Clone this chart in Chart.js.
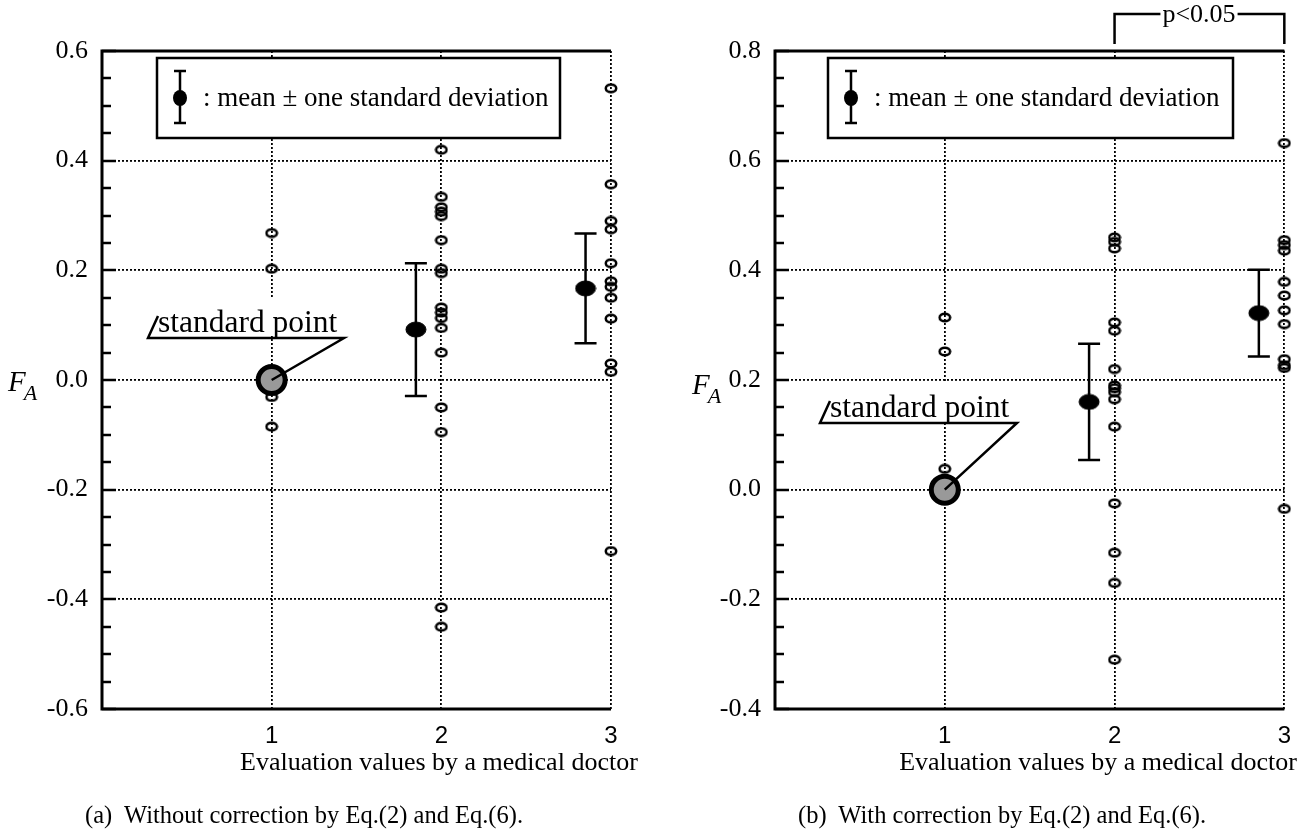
<!DOCTYPE html>
<html lang="en"><head>
<title>F_A against evaluation values by a medical doctor</title>
<style>
* { margin: 0; padding: 0 }
body { width: 1304px; height: 840px; position: relative; overflow: hidden; background: #fff; color: #000; font-family: "Liberation Serif", "Times New Roman", serif; }
canvas { position: absolute; top: 0; }
#ChartA { left: 0 }
#ChartB { left: 652px }
.txt { position: absolute; white-space: pre; line-height: 1; }
.xt { font-size: 26px; }
.cap { font-size: 24.5px; }
.fa { position: absolute; line-height: 1; font-style: italic; }
.fa i { font-size: 29px; }
.fa span { font-size: 22px; position: relative; top: 9px; left: -2px; }
</style>
<script src="https://cdn.jsdelivr.net/npm/chart.js"></script>
<script>

// (a) without correction -- F_A values at each evaluation value
const A_EVAL1 = [0.268, 0.203, -0.031, -0.085];
const A_EVAL2 = [0.42, 0.334, 0.315, 0.307, 0.299, 0.255, 0.203, 0.195, 0.132, 0.123, 0.113, 0.095, 0.05, -0.05, -0.095, -0.415, -0.45];
const A_EVAL3 = [0.532, 0.357, 0.29, 0.275, 0.213, 0.18, 0.17, 0.15, 0.112, 0.03, 0.015, -0.312];
const A_MEAN_X = [1.85, 2.85];
const A_MEAN = [0.092, 0.167];
const A_SD = [0.121, 0.1];

// (b) with correction
const B_EVAL1 = [0.314, 0.252, 0.038];
const B_EVAL2 = [0.46, 0.452, 0.44, 0.305, 0.29, 0.22, 0.19, 0.185, 0.178, 0.165, 0.115, -0.025, -0.115, -0.17, -0.31];
const B_EVAL3 = [0.632, 0.455, 0.446, 0.436, 0.379, 0.354, 0.327, 0.302, 0.238, 0.227, 0.222, -0.035];
const B_MEAN_X = [1.85, 2.85];
const B_MEAN = [0.16, 0.322];
const B_SD = [0.106, 0.079];

// the standard point (same in both panels)
const STD_X = 1;
const STD_Y = 0;

const X_TICKS = [1, 2, 3];

function get(id) {
    return document.getElementById(id);
}

function ring(w, h, lw, filled) {
    const c = document.createElement("canvas");
    c.width = w;
    c.height = h;
    const ctx = c.getContext("2d");
    ctx.beginPath();
    ctx.ellipse(w / 2, h / 2, w / 2 - lw / 2 - 0.5, h / 2 - lw / 2 - 0.5, 0, 0, Math.PI * 2);
    if (filled) {
        ctx.fillStyle = "#000";
        ctx.fill();
    }
    ctx.lineWidth = lw;
    ctx.strokeStyle = "#000";
    ctx.stroke();
    return c;
}

function toPoints(x, ys) {
    return ys.map(y => ({x: x, y: y}));
}

// everything drawn on top of the chart area for one panel
function panelPlugin(p) {
    return {
        id: "panel",
        beforeDatasetsDraw(chart) {
            const {ctx, chartArea: a, scales: {x, y}} = chart;
            ctx.save();
            ctx.strokeStyle = "#000";
            // inward ticks, major and minor, on the left axis
            ctx.lineWidth = 2.5;
            ctx.beginPath();
            for (let v = p.yMin; v <= p.yMax + 1e-9; v += 0.05) {
                const py = Math.round(y.getPixelForValue(v));
                const major = Math.abs(Math.round(v / 0.2) * 0.2 - v) < 1e-6;
                ctx.moveTo(a.left, py);
                ctx.lineTo(a.left + (major ? 14 : 9), py);
            }
            ctx.stroke();
            // frame: left, bottom, top
            ctx.lineWidth = 3;
            ctx.beginPath();
            ctx.moveTo(a.right, a.top);
            ctx.lineTo(a.left, a.top);
            ctx.lineTo(a.left, a.bottom);
            ctx.lineTo(a.right, a.bottom);
            ctx.stroke();
            // error bars
            ctx.lineWidth = 2.5;
            ctx.beginPath();
            p.meanX.forEach((xv, i) => {
                const px = x.getPixelForValue(xv);
                const top = y.getPixelForValue(p.mean[i] + p.sd[i]);
                const bot = y.getPixelForValue(p.mean[i] - p.sd[i]);
                ctx.moveTo(px, top); ctx.lineTo(px, bot);
                ctx.moveTo(px - 11, top); ctx.lineTo(px + 11, top);
                ctx.moveTo(px - 11, bot); ctx.lineTo(px + 11, bot);
            });
            ctx.stroke();
            ctx.restore();
        },
        afterDatasetsDraw(chart) {
            const {ctx, scales: {x, y}} = chart;
            ctx.save();
            ctx.strokeStyle = "#000";
            ctx.fillStyle = "#000";

            // legend box
            const L = p.legend;
            ctx.fillStyle = "#fff";
            ctx.fillRect(L.x, L.y, L.w, L.h);
            ctx.lineWidth = 2.5;
            ctx.strokeRect(L.x, L.y, L.w, L.h);
            const sx = L.x + 23, sy = L.y + 40;
            ctx.beginPath();
            ctx.moveTo(sx, sy - 27); ctx.lineTo(sx, sy + 25);
            ctx.moveTo(sx - 6, sy - 27); ctx.lineTo(sx + 6, sy - 27);
            ctx.moveTo(sx - 6, sy + 25); ctx.lineTo(sx + 6, sy + 25);
            ctx.stroke();
            ctx.fillStyle = "#000";
            ctx.beginPath();
            ctx.ellipse(sx, sy, 7, 8, 0, 0, Math.PI * 2);
            ctx.fill();
            ctx.font = '27px "Liberation Serif"';
            ctx.textBaseline = "middle";
            ctx.textAlign = "left";
            ctx.fillText(": mean \u00b1 one standard deviation", L.x + 46, sy + 1);

            // callout to the standard point
            const C = p.callout;
            ctx.font = '31.5px "Liberation Serif"';
            ctx.fillStyle = "#fff";
            ctx.fillRect(C.textX - 2, C.base - 40, C.x1 - C.textX, 38);
            ctx.fillStyle = "#000";
            ctx.textBaseline = "alphabetic";
            ctx.fillText("standard point", C.textX, C.base - 6);
            const spx = x.getPixelForValue(STD_X), spy = y.getPixelForValue(STD_Y);
            ctx.lineWidth = 2.5;
            ctx.beginPath();
            ctx.moveTo(C.x0 + 10, C.base - 22);
            ctx.lineTo(C.x0, C.base);
            ctx.lineTo(C.x1, C.base);
            ctx.lineTo(spx, spy);
            ctx.stroke();

            // significance bracket
            if (p.bracket) {
                const B = p.bracket;
                const x0 = x.getPixelForValue(B.from), x1 = x.getPixelForValue(B.to);
                ctx.font = '26px "Liberation Serif"';
                const tw = ctx.measureText(B.label).width;
                const cx = B.center;
                ctx.lineWidth = 2.5;
                ctx.beginPath();
                ctx.moveTo(x0, B.bottom); ctx.lineTo(x0, B.top); ctx.lineTo(cx - tw / 2 - 2, B.top);
                ctx.moveTo(cx + tw / 2 + 2, B.top); ctx.lineTo(x1, B.top); ctx.lineTo(x1, B.bottom);
                ctx.stroke();
                ctx.textAlign = "center";
                ctx.textBaseline = "middle";
                ctx.fillText(B.label, cx, B.top + 1);
            }
            ctx.restore();
        },
    };
}

function makeChart(canvasId, p) {
    return new Chart(get(canvasId), {
        type: "scatter",
        data: {
            datasets: [{
                label: "standard point",
                data: [{x: STD_X, y: STD_Y}],
                pointRadius: 13.5,
                borderWidth: 5,
                borderColor: "#000",
                backgroundColor: "#999",
                clip: false,
            }, {
                label: "mean",
                data: p.meanX.map((xv, i) => ({x: xv, y: p.mean[i]})),
                pointStyle: ring(22, 17, 1, true),
                clip: false,
            }, {
                label: "samples",
                data: [].concat(toPoints(1, p.e1), toPoints(2, p.e2), toPoints(3, p.e3)),
                pointStyle: ring(14, 11, 2.5, false),
                clip: false,
            }],
        },
        options: {
            responsive: false,
            animation: false,
            layout: { padding: {left: 0, top: 51, right: p.padRight, bottom: 91} },
            plugins: { legend: {display: false}, tooltip: {enabled: false} },
            scales: {
                x: {
                    type: "linear",
                    min: 0, max: 3,
                    afterBuildTicks: s => { s.ticks = X_TICKS.map(v => ({value: v})); },
                    afterFit: s => { s.height = 40; },
                    grid: { color: "#000", lineWidth: 1.8, drawTicks: false },
                    border: { display: false, dash: [2, 2] },
                    ticks: {
                        padding: 13,
                        color: "#000",
                        font: { family: "Liberation Sans", size: 24 },
                    },
                },
                y: {
                    min: p.yMin, max: p.yMax,
                    afterFit: s => { s.width = p.yWidth; },
                    grid: { color: "#000", lineWidth: 1.8, drawTicks: false },
                    border: { display: false, dash: [2, 2] },
                    ticks: {
                        stepSize: 0.2,
                        padding: 14,
                        color: "#000",
                        font: { family: "Liberation Serif", size: 26 },
                        callback: v => (Math.abs(v) < 1e-9 ? 0 : v).toFixed(1),
                    },
                },
            },
        },
        plugins: [panelPlugin(p)],
    });
}

function bodyOnLoad() {
    makeChart("ChartA", {
        e1: A_EVAL1, e2: A_EVAL2, e3: A_EVAL3,
        meanX: A_MEAN_X, mean: A_MEAN, sd: A_SD,
        yMin: -0.6, yMax: 0.6, yWidth: 102, padRight: 41,
        legend: {x: 157, y: 58, w: 403, h: 80},
        callout: {x0: 148, x1: 344, base: 338, textX: 158},
        bracket: null,
    });
    makeChart("ChartB", {
        e1: B_EVAL1, e2: B_EVAL2, e3: B_EVAL3,
        meanX: B_MEAN_X, mean: B_MEAN, sd: B_SD,
        yMin: -0.4, yMax: 0.8, yWidth: 123, padRight: 19,
        legend: {x: 176, y: 58, w: 405, h: 80},
        callout: {x0: 168, x1: 365, base: 423, textX: 178},
        bracket: {from: 2, to: 3, top: 14, bottom: 44, center: 547, label: "p<0.05"},
    });
}

</script>
</head><body onload="bodyOnLoad()">

<canvas id="ChartA" width="652" height="840"></canvas>
<canvas id="ChartB" width="652" height="840"></canvas>

<div class="fa" style="left:8px; top:367px"><i>F</i><span>A</span></div>
<div class="fa" style="left:692px; top:370px"><i>F</i><span>A</span></div>

<div class="txt xt" style="left:240px; top:749px">Evaluation values by a medical doctor</div>
<div class="txt xt" style="right:7px; top:749px">Evaluation values by a medical doctor</div>

<div class="txt cap" style="left:85px; top:803px">(a)  Without correction by Eq.(2) and Eq.(6).</div>
<div class="txt cap" style="left:798px; top:803px">(b)  With correction by Eq.(2) and Eq.(6).</div>

</body></html>
